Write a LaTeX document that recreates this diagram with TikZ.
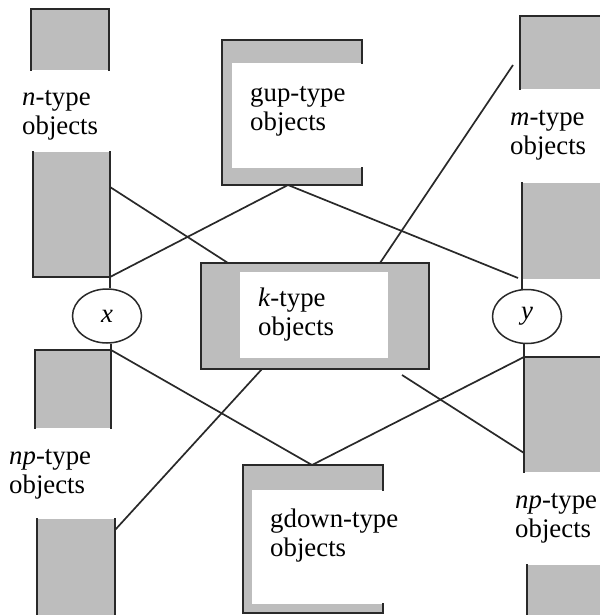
\documentclass[tikz,border=0pt]{standalone}
\usepackage{fontspec}
\setmainfont{Liberation Serif}
\usetikzlibrary{shapes.geometric}
\definecolor{panelgray}{gray}{0.74}
\definecolor{ink}{gray}{0.16}
\begin{document}
\begin{tikzpicture}[x=1pt,y=-1pt,
  panel/.style={rectangle, fill=panelgray, draw=none, inner sep=0pt, outer sep=0pt, anchor=north west},
  rim/.style={draw=ink, line width=1.8pt, line cap=rect},
  link/.style={draw=ink, line width=1.7pt},
  lbl/.style={font=\fontsize{26.8}{28.5}\selectfont, align=left, anchor=base west, inner sep=0pt},
  var/.style={ellipse, draw=ink, line width=1.5pt, fill=white, minimum width=69pt, minimum height=54pt, inner sep=0pt, font=\fontsize{26.8}{28.5}\selectfont\itshape}
]
\useasboundingbox (0,0) rectangle (599,615);

% ---- left column: n-type and np-type stacks ----
\node[panel, minimum width=78pt, minimum height=61pt] (nA) at (31,9) {};
\draw[rim] (nA.south west) -- (nA.north west) -- (nA.north east) -- (nA.south east);
\node[lbl] (nlbl) at (22,134) {\textit{n}-type\\objects};
\node[panel, minimum width=77pt, minimum height=125pt] (nB) at (33,152) {};
\draw[rim] (nB.north west) -- (nB.south west) -- (nB.south east) -- (nB.north east);

\node[panel, minimum width=76pt, minimum height=78pt] (npA) at (35,350) {};
\draw[rim] (npA.south west) -- (npA.north west) -- (npA.north east) -- (npA.south east);
\node[lbl] (nplbl) at (9,493) {\textit{np}-type\\objects};
\node[panel, minimum width=78pt, minimum height=100pt] (npB) at (37,519) {};
\draw[rim] (npB.north west) -- (npB.south west);
\draw[rim] (npB.north east) -- (npB.south east);

% ---- right column: m-type and np-type stacks ----
\node[panel, minimum width=82pt, minimum height=73pt] (mA) at (520,16) {};
\draw[rim] (mA.south west) -- (mA.north west) -- (mA.north east);
\node[lbl] (mlbl) at (510,154) {\textit{m}-type\\objects};
\node[panel, minimum width=81pt, minimum height=96pt] (mB) at (522,183) {};
\draw[rim] (mB.north west) -- (mB.south west);

\node[panel, minimum width=77pt, minimum height=115pt] (qA) at (524,357) {};
\draw[rim] (qA.south west) -- (qA.north west) -- (qA.north east);
\node[lbl] (qlbl) at (515,537) {\textit{np}-type\\objects};
\node[panel, minimum width=75pt, minimum height=55pt] (qB) at (527,565) {};
\draw[rim] (qB.north west) -- (qB.south west);

% ---- gup frame ----
\node[panel, minimum width=140pt, minimum height=145pt] (gup) at (222,40) {};
\fill[white] (232,63) rectangle (362,168);
\draw[rim] (362,63) -- (gup.north east) -- (gup.north west) -- (gup.south west) -- (gup.south east) -- (362,168);
\node[lbl] (guplbl) at (250,130) {gup-type\\objects};

% ---- k frame ----
\node[panel, minimum width=228pt, minimum height=106pt] (k) at (201,263) {};
\fill[white] (240,272) rectangle (388,358);
\draw[rim] (k.north west) rectangle (k.south east);
\node[lbl] (klbl) at (258,335) {\textit{k}-type\\objects};

% ---- gdown frame ----
\node[panel, minimum width=140pt, minimum height=148pt] (gdown) at (243,465) {};
\fill[white] (252,490) rectangle (383,604);
\draw[rim] (383,490) -- (gdown.north east) -- (gdown.north west) -- (gdown.south west) -- (gdown.south east) -- (383,604);
\node[lbl] (gdlbl) at (270,556) {gdown-type\\objects};

% ---- x and y ----
\node[var] (x) at (107,316) {x};
\node[var] (y) at (527,316.5) {y};

% ---- connector end points ----
\coordinate (nBr) at (110,187);
\coordinate (kTl) at (228,263);
\coordinate (kTr) at (380,263);
\coordinate (mTip) at (513,65);
\coordinate (gupFoot) at (288,185);
\coordinate (yTopL) at (518,278);
\coordinate (kBl) at (262,369);
\coordinate (npBr) at (115,530);
\coordinate (kBr) at (402,375);
\coordinate (qAl) at (524,453);
\coordinate (gdHead) at (312,465);

% ---- connectors ----
\draw[link] (nB.south east) -- (nB.south east |- x.north);
\draw[link] (npA.north east) -- (npA.north east |- x.south);
\draw[link] (mB.south west) -- (mB.south west |- y.north);
\draw[link] (qA.north west) -- (qA.north west |- y.south);
\draw[link] (nBr) -- (kTl);
\draw[link] (nB.south east) -- (gupFoot) -- (yTopL);
\draw[link] (kTr) -- (mTip);
\draw[link] (npA.north east) -- (gdHead) -- (qA.north west);
\draw[link] (kBl) -- (npBr);
\draw[link] (kBr) -- (qAl);
\end{tikzpicture}
\end{document}
